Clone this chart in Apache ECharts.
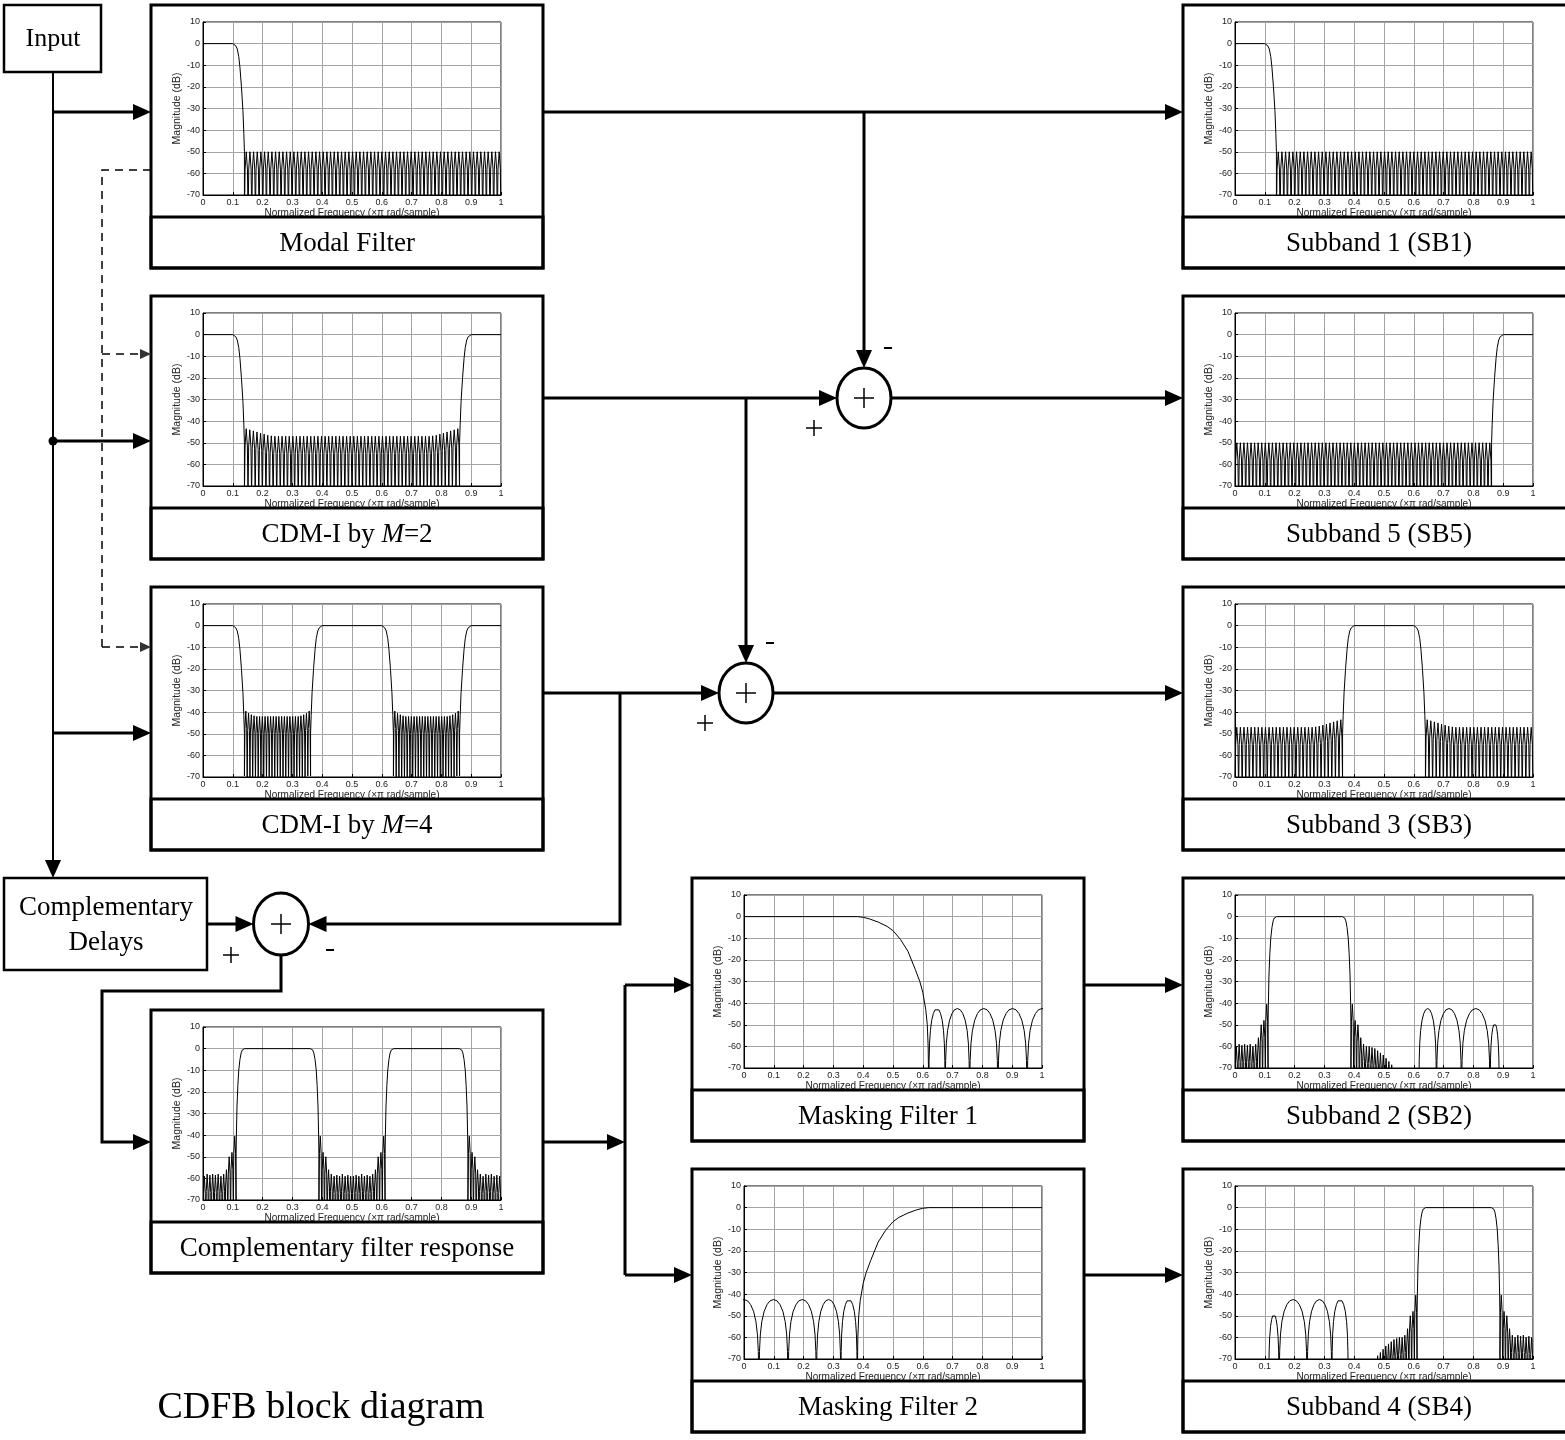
<!DOCTYPE html>
<html><head><meta charset="utf-8">
<script src="https://cdn.jsdelivr.net/npm/echarts@6/dist/echarts.min.js"></script>
<style>html,body{margin:0;padding:0;background:#fff}#c{width:1565px;height:1440px}</style>
</head><body><div id="c"></div>
<script>
// ---------------- data ----------------
const X_TICKS = [0,0.1,0.2,0.3,0.4,0.5,0.6,0.7,0.8,0.9,1];
const Y_TICKS = [10,0,-10,-20,-30,-40,-50,-60,-70];

// lobe shape templates (fraction of lobe width, dB relative to lobe peak)
const DENSE_LOBE = [[0,-30],[0.18,-8],[0.5,0],[0.82,-8]];
const WIDE_LOBE = [[0,-40],[0.02,-24],[0.05,-16],[0.1,-10.2],[0.18,-5.4],[0.28,-2.3],[0.38,-0.6],[0.5,0],[0.62,-0.6],[0.72,-2.3],[0.82,-5.4],[0.9,-10.2],[0.95,-16],[0.98,-24]];

// Modal filter / SB1
const modalEdge = [[0,0],[0.1,0],[0.106,-0.3],[0.11,-1],[0.115,-2.5],[0.12,-6],[0.124,-11],[0.129,-20],[0.134,-31],[0.137,-41.5],[0.139,-50]];
const modalStopPeaks = [
 -50,-50,-50,-50,-50,-50,-50,-50,-50,-50,
 -50,-50,-50,-50,-50,-50,-50,-50,-50,-50,
 -50,-50,-50,-50,-50,-50,-50,-50,-50,-50,
 -50,-50,-50,-50,-50,-50,-50,-50,-50,-50,
 -50,-50,-50,-50,-50,-50,-50,-50,-50,-50,
 -50,-50,-50,-50,-50,-50,-50,-50,-50,-50,
 -50,-50,-50,-50,-50,-50,-50,-50,-50,-50];

// CDM-I by M=2
const cdm2StopPeaks = [
 -43.5,-44,-44.5,-45,-45.5,-46,-46.5,-46.8,
 -47,-47,-47,-47,-47,-47,-47,-47,-47,-47,-47,
 -47,-47,-47,-47,-47,-47,-47,-47,-47,-47,-47,
 -47,-47,-47,-47,-47,-47,-47,-47,-47,-47,-47,
 -47,-47,-47,-47,-47,-47,-47,-47,-47,-47,-47,
 -46.8,-46.5,-46,-45.5,-45,-44.5,-44,-43.5];
const cdm2Rise = [[0.861,-50],[0.863,-41.5],[0.866,-31],[0.871,-20],[0.876,-11],[0.88,-6],[0.885,-2.5],[0.89,-1],[0.894,-0.3],[0.9,0],[1,0]];

// CDM-I by M=4
const cdm4StopA = [-39.5,-40.5,-41.2,-41.7,-42,-42,-42,-42,-42,-42,-42,-42,-42,-42,-42,-42,-42,-42,-42,-42,-41.7,-41.2,-40.5,-39.5];
const cdm4Mid = [[0.361,-50],[0.363,-41.5],[0.366,-31],[0.371,-20],[0.376,-11],[0.38,-6],[0.385,-2.5],[0.39,-1],[0.394,-0.3],[0.4,0],[0.6,0],[0.606,-0.3],[0.61,-1],[0.615,-2.5],[0.62,-6],[0.624,-11],[0.629,-20],[0.634,-31],[0.637,-41.5],[0.639,-50]];
const cdm4StopB = [-39.5,-40.5,-41.2,-41.7,-42,-42,-42,-42,-42,-42,-42,-42,-42,-42,-42,-42,-42,-42,-42,-42,-41.7,-41.2,-40.5,-39.5];

// Subband 5
const sb5StopPeaks = [
 -50,-50,-50,-50,-50,-50,-50,-50,-50,-50,-50,-50,
 -50,-50,-50,-50,-50,-50,-50,-50,-50,-50,-50,-50,
 -50,-50,-50,-50,-50,-50,-50,-50,-50,-50,-50,-50,
 -50,-50,-50,-50,-50,-50,-50,-50,-50,-50,-50,-50,
 -50,-50,-50,-50,-50,-50,-50,-50,-50,-50,-50,-50,
 -50,-50,-50,-50,-50,-50,-50,-50,-50,-50,-50,-50];

// Subband 3
const sb3StopA = [-47,-47,-47,-47,-47,-47,-47,-47,-47,-47,-47,-47,-47,-47,-47,-47,-47,-47,-47,-47,-47,-47,-46.8,-46.5,-46,-45.5,-45,-44.5,-44,-43.5];
const sb3StopB = [-43.5,-44,-44.5,-45,-45.5,-46,-46.5,-46.8,-47,-47,-47,-47,-47,-47,-47,-47,-47,-47,-47,-47,-47,-47,-47,-47,-47,-47,-47,-47,-47,-47];

// Complementary filter response
const compStopA = [-59,-58,-58.5,-58,-58.5,-58,-59,-58,-56,-50,-48,-40.5];
const compBand1 = [[0.111,-50],[0.112,-40],[0.114,-27],[0.117,-17],[0.12,-10],[0.124,-5],[0.128,-2],[0.132,-0.6],[0.136,-0.1],[0.14,0],[0.36,0],[0.364,-0.1],[0.368,-0.6],[0.372,-2],[0.376,-5],[0.38,-10],[0.383,-17],[0.386,-27],[0.388,-40],[0.389,-50]];
const compStopB = [-40.5,-48,-50,-56,-58,-59,-58.5,-59,-58,-59,-58.5,-59,-59,-58.5,-59,-58,-59,-58.5,-59,-58,-56,-50,-48,-40.5];
const compBand2 = [[0.611,-50],[0.612,-40],[0.614,-27],[0.617,-17],[0.62,-10],[0.624,-5],[0.628,-2],[0.632,-0.6],[0.636,-0.1],[0.64,0],[0.86,0],[0.864,-0.1],[0.868,-0.6],[0.872,-2],[0.876,-5],[0.88,-10],[0.883,-17],[0.886,-27],[0.888,-40],[0.889,-50]];
const compStopC = [-40.5,-48,-50,-56,-58,-59,-58,-58.5,-58,-59,-58.5,-59];

// Masking filters
const mf1Pass = [[0,0],[0.38,0],[0.4,-0.3],[0.42,-1],[0.45,-2.5],[0.48,-4.5],[0.5,-6.5],[0.525,-10.5],[0.55,-16],[0.575,-24.5],[0.59,-30],[0.6,-35],[0.61,-43],[0.615,-50],[0.618,-60],[0.62,-80]];
const mf1LobeEdges = [0.62,0.675,0.757,0.852,0.95,1.05];
const mf1LobePeaks = [-42.5,-42.5,-42.5,-42.5,-42.5];
const mf2LobeEdges = [-0.05,0.05,0.148,0.243,0.325,0.38];
const mf2LobePeaks = [-42.5,-42.5,-42.5,-42.5,-42.5];
const mf2Rise = [[0.38,-80],[0.382,-60],[0.385,-50],[0.39,-43],[0.4,-35],[0.41,-30],[0.425,-24.5],[0.45,-16],[0.475,-10.5],[0.5,-6.5],[0.52,-4.5],[0.55,-2.5],[0.58,-1],[0.6,-0.3],[0.62,0],[1,0]];

// Subband 2
const sb2StopA = [-60,-59,-59.5,-59,-59.5,-59,-60,-59,-56,-50,-48,-40.5];
const sb2Tail = [-40.5,-48,-50,-56,-59,-60,-60,-60.5,-61,-62,-63,-64,-65.5,-67,-68.5,-70];
const sb2LobeEdges = [0.617,0.676,0.76,0.856,0.887];
const sb2LobePeaks = [-42.5,-42.5,-42.5,-49.5];

// Subband 4
const sb4LobeEdges = [0.113,0.148,0.242,0.325,0.38];
const sb4LobePeaks = [-49.5,-42.5,-42.5,-42.5];
const sb4Rise = [-70,-68.5,-67,-65.5,-64,-63,-62,-61,-60.5,-60,-60,-59,-56,-50,-48,-40.5];
const sb4StopC = [-40.5,-48,-50,-56,-59,-60,-59,-59.5,-59,-60,-59.5,-60];

// ---------------- helpers ----------------
function ripple(from, to, peaks) {
  const w = (to - from) / peaks.length, out = [];
  peaks.forEach((p, i) => DENSE_LOBE.forEach(([t, d]) => out.push([from + (i + t) * w, p + d])));
  out.push([to, peaks[peaks.length - 1] + DENSE_LOBE[0][1]]);
  return out;
}
function lobes(edges, peaks) {
  const out = [];
  peaks.forEach((p, i) => { const a = edges[i], b = edges[i + 1];
    WIDE_LOBE.forEach(([t, d]) => out.push([a + t * (b - a), p + d])); });
  out.push([edges[edges.length - 1], peaks[peaks.length - 1] + WIDE_LOBE[0][1]]);
  return out;
}

const COL_L = 151, COL_M = 692, COL_R = 1183;
const PANELS = [
  {x: COL_L, y: 5,    cap: 'Modal Filter', data: [...modalEdge, ...ripple(0.139, 1, modalStopPeaks)]},
  {x: COL_L, y: 296,  cap: '{n|CDM-I by }{i|M}{n|=2}', data: [...modalEdge, ...ripple(0.139, 0.861, cdm2StopPeaks), ...cdm2Rise]},
  {x: COL_L, y: 587,  cap: '{n|CDM-I by }{i|M}{n|=4}', data: [...modalEdge, ...ripple(0.139, 0.361, cdm4StopA), ...cdm4Mid, ...ripple(0.639, 0.861, cdm4StopB), ...cdm2Rise]},
  {x: COL_L, y: 1010, cap: 'Complementary filter response', data: [...ripple(0, 0.111, compStopA), ...compBand1, ...ripple(0.389, 0.611, compStopB), ...compBand2, ...ripple(0.889, 1, compStopC)]},
  {x: COL_M, y: 878,  cap: 'Masking Filter 1', data: [...mf1Pass, ...lobes(mf1LobeEdges, mf1LobePeaks)]},
  {x: COL_M, y: 1169, cap: 'Masking Filter 2', data: [...lobes(mf2LobeEdges, mf2LobePeaks), ...mf2Rise]},
  {x: COL_R, y: 5,    cap: 'Subband 1 (SB1)', data: [...modalEdge, ...ripple(0.139, 1, modalStopPeaks)]},
  {x: COL_R, y: 296,  cap: 'Subband 5 (SB5)', data: [...ripple(0, 0.861, sb5StopPeaks), ...cdm2Rise]},
  {x: COL_R, y: 587,  cap: 'Subband 3 (SB3)', data: [...ripple(0, 0.361, sb3StopA), ...cdm4Mid, ...ripple(0.639, 1, sb3StopB)]},
  {x: COL_R, y: 878,  cap: 'Subband 2 (SB2)', data: [...ripple(0, 0.111, sb2StopA), ...compBand1, ...ripple(0.389, 0.54, sb2Tail), ...lobes(sb2LobeEdges, sb2LobePeaks)]},
  {x: COL_R, y: 1169, cap: 'Subband 4 (SB4)', data: [...lobes(sb4LobeEdges, sb4LobePeaks), ...ripple(0.465, 0.611, sb4Rise), ...compBand2, ...ripple(0.889, 1, sb4StopC)]}
];

// ---------------- layout ----------------
const PW = 392, PH = 263, DIV = 212;
const SANS = '"Liberation Sans", Arial, sans-serif';
const SERIF = '"Liberation Serif", "Times New Roman", serif';

const grids = [], xAxes = [], yAxes = [], series = [];
PANELS.forEach((p, i) => {
  grids.push({left: p.x + 52, top: p.y + 17, width: 298, height: 173, show: true, borderColor: '#000', borderWidth: 1, backgroundColor: '#fff'});
  xAxes.push({gridIndex: i, type: 'value', min: X_TICKS[0], max: X_TICKS[X_TICKS.length - 1], interval: 0.1,
    axisLine: {show: true, onZero: false, lineStyle: {color: '#000', width: 1}},
    axisTick: {show: true, inside: true, length: 3, lineStyle: {color: '#000'}},
    axisLabel: {fontSize: 9, color: '#222', margin: 3, fontFamily: SANS, formatter: v => String(+v.toFixed(1))},
    splitLine: {show: true, lineStyle: {color: '#a4a4a4', width: 1}},
    name: 'Normalized Frequency (\u00d7\u03c0 rad/sample)', nameLocation: 'middle', nameGap: 11,
    nameTextStyle: {fontSize: 10, fontFamily: SANS, color: '#222'}});
  yAxes.push({gridIndex: i, type: 'value', min: Y_TICKS[Y_TICKS.length - 1], max: Y_TICKS[0], interval: 10,
    axisLine: {show: true, onZero: false, lineStyle: {color: '#000', width: 1}},
    axisTick: {show: true, inside: true, length: 3, lineStyle: {color: '#000'}},
    axisLabel: {fontSize: 9, color: '#222', margin: 3, fontFamily: SANS},
    splitLine: {show: true, lineStyle: {color: '#a4a4a4', width: 1}},
    name: 'Magnitude (dB)', nameLocation: 'middle', nameGap: 15,
    nameTextStyle: {fontSize: 10.5, fontFamily: SANS, color: '#222'}});
  series.push({type: 'line', xAxisIndex: i, yAxisIndex: i, data: p.data, symbol: 'none', showSymbol: false,
    clip: true, silent: true, animation: false, lineStyle: {color: '#000', width: 1}});
});

// ---------------- block diagram graphics ----------------
const els = [];
const Z = 100;
function line(pts, w, dash) {
  els.push({type: 'polyline', z: Z, silent: true, shape: {points: pts},
    style: {stroke: '#000', lineWidth: w || 3, fill: 'none', lineDash: dash || null}});
}
function arrow(pts, w, dash, head, half) {
  head = head || 18; half = half || 8;
  const n = pts.length, [x2, y2] = pts[n - 1], [x1, y1] = pts[n - 2];
  const dx = x2 - x1, dy = y2 - y1, len = Math.hypot(dx, dy), ux = dx / len, uy = dy / len;
  const bx = x2 - ux * head, by = y2 - uy * head;
  line(pts.slice(0, n - 1).concat([[bx + ux, by + uy]]), w, dash);
  els.push({type: 'polygon', z: Z, silent: true,
    shape: {points: [[x2, y2], [bx - uy * half, by + ux * half], [bx + uy * half, by - ux * half]]},
    style: {fill: dash ? '#333' : '#000'}});
}
function text(t, x, y, size, extra) {
  els.push(Object.assign({type: 'text', z: Z + 1, silent: true,
    style: {text: t, x: x, y: y, font: size + 'px ' + SERIF, fill: '#000',
      align: 'center', verticalAlign: 'middle', textAlign: 'center', textVerticalAlign: 'middle'}}, extra || {}));
}
function plus(cx, cy, h, w) {
  line([[cx - h, cy], [cx + h, cy]], w || 1.5);
  line([[cx, cy - h], [cx, cy + h]], w || 1.5);
}
function minus(cx, cy) { line([[cx - 4, cy], [cx + 4, cy]], 2); }
function summer(cx, cy, rx, ry) {
  els.push({type: 'ellipse', z: Z, silent: true, shape: {cx: cx, cy: cy, rx: rx, ry: ry},
    style: {fill: '#fff', stroke: '#000', lineWidth: 3}});
  plus(cx, cy, 10, 1.5);
}

// panels: caption boxes and borders
PANELS.forEach(p => {
  els.push({type: 'rect', z: Z, silent: true, shape: {x: p.x, y: p.y + DIV, width: PW, height: PH - DIV},
    style: {fill: '#fff', stroke: '#000', lineWidth: 3}});
  els.push({type: 'rect', z: Z, silent: true, shape: {x: p.x, y: p.y, width: PW, height: PH},
    style: {fill: 'none', stroke: '#000', lineWidth: 3}});
  const isRich = p.cap.indexOf('{') === 0;
  text(p.cap, p.x + PW / 2, p.y + DIV + (PH - DIV) / 2 + 1, 27, isRich ? {style: {
    text: p.cap, x: p.x + PW / 2, y: p.y + DIV + (PH - DIV) / 2 + 1, fill: '#000',
    align: 'center', verticalAlign: 'middle', textAlign: 'center', textVerticalAlign: 'middle',
    font: '27px ' + SERIF,
    rich: {n: {fontFamily: SERIF, fontSize: 27, fill: '#000', color: '#000'},
           i: {fontFamily: SERIF, fontSize: 27, fontStyle: 'italic', fill: '#000', color: '#000'}}}} : null);
});

// Input box
els.push({type: 'rect', z: Z, silent: true, shape: {x: 4, y: 5, width: 97, height: 67}, style: {fill: '#fff', stroke: '#000', lineWidth: 2.5}});
text('Input', 53, 39, 26);
// Complementary delays box
els.push({type: 'rect', z: Z, silent: true, shape: {x: 4, y: 878, width: 203, height: 92}, style: {fill: '#fff', stroke: '#000', lineWidth: 2.5}});
text('Complementary', 106, 908, 27);
text('Delays', 106, 943, 27);

// input distribution
arrow([[53, 72], [53, 878]], 2);
arrow([[53, 112], [151, 112]]);
arrow([[53, 441], [151, 441]]);
arrow([[53, 733], [151, 733]]);
els.push({type: 'circle', z: Z, silent: true, shape: {cx: 53, cy: 441, r: 4.5}, style: {fill: '#000'}});

// dashed branches
line([[151, 170], [102, 170], [102, 647]], 1.5, [8, 6]);
arrow([[102, 647], [151, 647]], 1.5, [8, 6], 11, 5);
arrow([[102, 354], [151, 354]], 1.5, [8, 6], 11, 5);

// summing junctions
const S1 = [864, 398], S2 = [746, 693], S3 = [281, 924];
// modal output
arrow([[544, 112], [1183, 112]]);
arrow([[864, 112], [864, S1[1] - 30]]);
// CDM2 output
arrow([[544, 398], [S1[0] - 27, 398]]);
arrow([[746, 398], [746, S2[1] - 30]]);
arrow([[S1[0] + 27, 398], [1183, 398]]);
// CDM4 output
arrow([[544, 693], [S2[0] - 27, 693]]);
arrow([[620, 693], [620, 924], [S3[0] + 27.5, 924]]);
arrow([[S2[0] + 27, 693], [1183, 693]]);
// complementary delay into summer 3
arrow([[207, 924], [S3[0] - 27.5, 924]]);
// summer 3 to complementary filter
arrow([[281, 955], [281, 991], [102, 991], [102, 1142], [151, 1142]]);
// complementary output to masking filters
arrow([[544, 1142], [625, 1142]]);
line([[625, 985], [625, 1275]]);
arrow([[625, 985], [692, 985]]);
arrow([[625, 1275], [692, 1275]]);
arrow([[1084, 985], [1183, 985]]);
arrow([[1084, 1275], [1183, 1275]]);

summer(S1[0], S1[1], 27, 30);
summer(S2[0], S2[1], 27, 30);
summer(S3[0], S3[1], 27.5, 31);
// signs
minus(888, 348); plus(814, 428, 8, 1.5);
minus(770, 643); plus(705, 723, 8, 1.5);
plus(231, 955, 8, 1.5); minus(330, 950);

text('CDFB block diagram', 321, 1408, 38);

const chart = echarts.init(document.getElementById('c'), null, {renderer: 'canvas'});
chart.setOption({
  backgroundColor: '#fff',
  animation: false,
  grid: grids, xAxis: xAxes, yAxis: yAxes, series: series,
  graphic: {elements: els}
});
</script></body></html>
